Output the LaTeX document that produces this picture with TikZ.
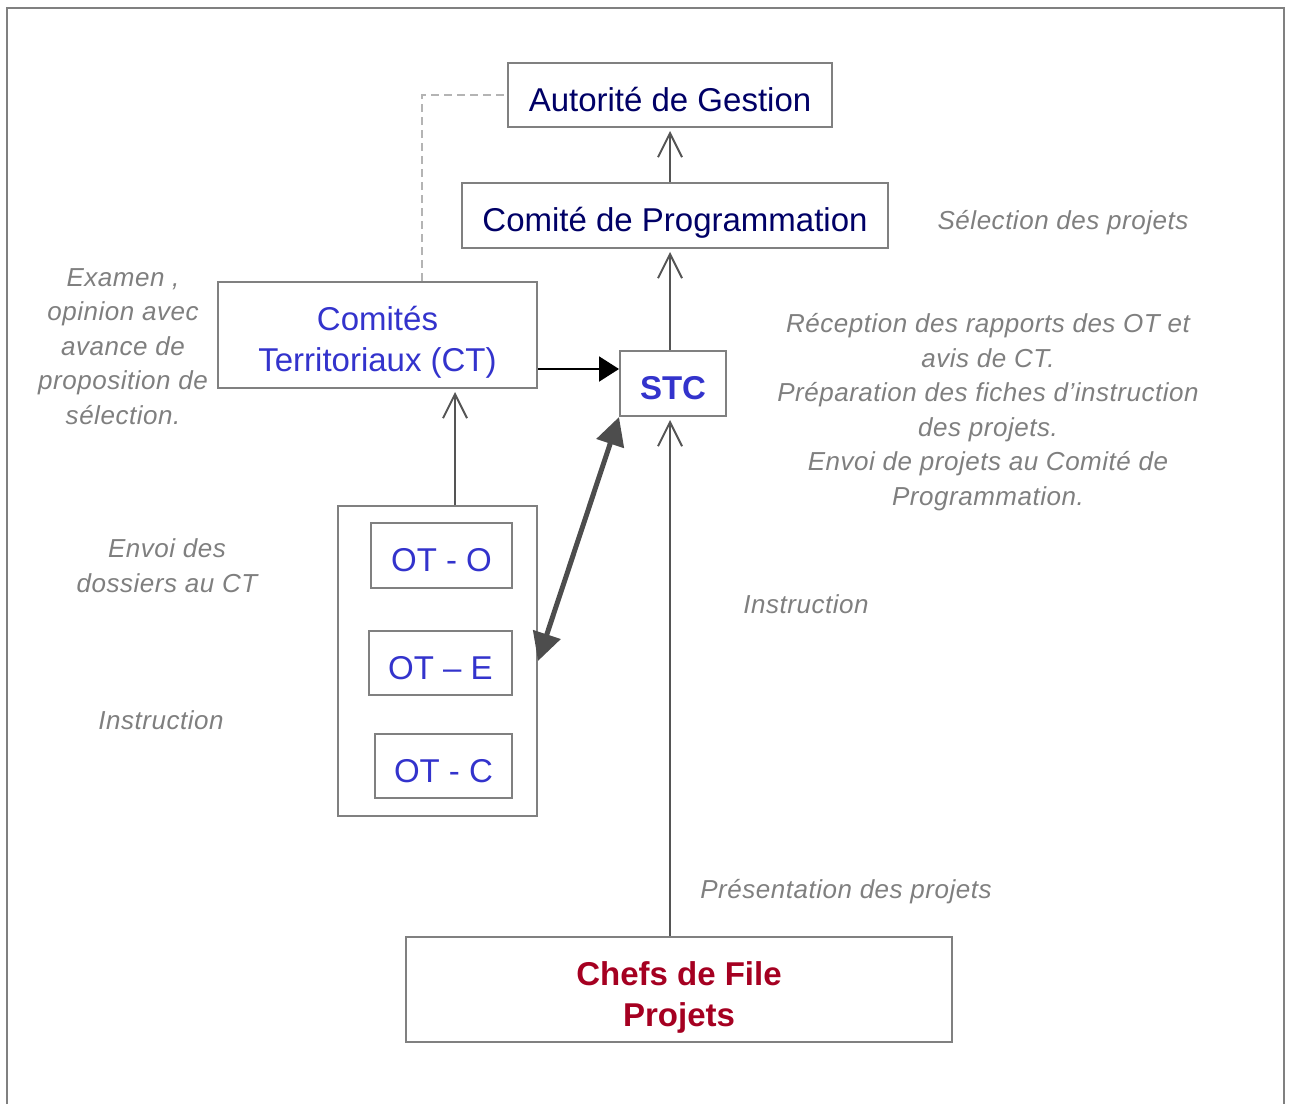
\documentclass[tikz,border=0pt]{standalone}
\usepackage{fontspec}
\setmainfont{Liberation Sans}
\usetikzlibrary{arrows.meta}
\definecolor{boxgray}{HTML}{808080}
\definecolor{linegray}{HTML}{555555}
\definecolor{darkgray}{HTML}{4D4D4D}
\definecolor{dashgray}{HTML}{B4B4B4}
\definecolor{notegray}{HTML}{7F7F7F}
\definecolor{navytext}{HTML}{000066}
\definecolor{bluetext}{HTML}{3333CC}
\definecolor{redtext}{HTML}{A50021}
% box text, set a little lower in its box
\newcommand{\boxtext}[1]{\raisebox{-4pt}[\height][\depth]{\begin{tabular}{@{}c@{}}#1\end{tabular}}}
\tikzset{
  box/.style={draw=boxgray, line width=1pt, inner sep=0pt, align=center,
    font=\fontsize{16.5}{20.5}\selectfont},
  note/.style={inner sep=0pt, align=center, text=notegray,
    font=\itshape\fontsize{13}{17.25}\selectfont\addfontfeature{LetterSpace=2}},
  openarrow/.style={draw=linegray, line width=1pt, shorten >=1.5pt,
    -{Straight Barb[length=12pt,width=12pt,line width=1pt]}},
  filledarrow/.style={draw=black, line width=1pt, -{Triangle[length=10pt,width=12.5pt]}},
  bigarrow/.style={draw=darkgray, line width=2.5pt,
    {Triangle[length=14pt,width=14pt]}-{Triangle[length=14pt,width=14pt]}},
  dashline/.style={draw=dashgray, line width=1pt, dash pattern=on 4pt off 2.5pt}
}
\begin{document}
\begin{tikzpicture}[x=0.5pt,y=-0.5pt]
  \useasboundingbox (0,0) rectangle (1290,1104);
  % frame
  \draw[boxgray, line width=1pt] (7,1104) -- (7,8) -- (1284,8) -- (1284,1104);

  % boxes
  \node[box, minimum width=162pt, minimum height=32pt, text=navytext] (ag) at (670,95) {\boxtext{Autorit\'e de Gestion}};
  \node[box, minimum width=213pt, minimum height=32.5pt, text=navytext] (cp) at (675,215.5) {\boxtext{Comit\'e de Programmation}};
  \node[box, minimum width=159.5pt, minimum height=53pt, text=bluetext] (ct) at (377.5,335) {\boxtext{Comit\'es\\Territoriaux (CT)}};
  \node[box, minimum width=53pt, minimum height=32.5pt, text=bluetext, font=\bfseries\fontsize{16.5}{20.5}\selectfont] (stc) at (673,383.5) {\boxtext{STC}};
  \node[box, minimum width=99.5pt, minimum height=155pt] (otbox) at (437.5,661) {};
  \node[box, minimum width=70.5pt, minimum height=32.5pt, text=bluetext] (oto) at (441.5,555.5) {\boxtext{OT - O}};
  \node[box, minimum width=71.5pt, minimum height=32pt, text=bluetext] (ote) at (440.5,663) {\boxtext{OT -- E}};
  \node[box, minimum width=68.5pt, minimum height=32pt, text=bluetext] (otc) at (443.5,766) {\boxtext{OT - C}};
  \node[box, minimum width=273pt, minimum height=52.5pt, text=redtext, font=\bfseries\fontsize{16.5}{20.5}\selectfont] (chefs) at (679,989.5) {\boxtext{Chefs de File\\Projets}};

  % notes
  \node[note] (selection) at (1063,223) {S\'election des projets};
  \node[note] (examen) at (123,346.5) {Examen ,\\opinion avec\\avance de\\proposition de\\s\'election.};
  \node[note] (reception) at (988,412) {R\'eception des rapports des OT et\\avis de CT.\\Pr\'eparation des fiches d'instruction\\des projets.\\Envoi de projets au Comit\'e de\\Programmation.};
  \node[note] (envoi) at (167,565.5) {Envoi des\\dossiers au CT};
  \node[note] (instrot) at (161,720) {Instruction};
  \node[note] (instrstc) at (806,604) {Instruction};
  \node[note] (presentation) at (846,892) {Pr\'esentation des projets};

  % connectors
  \draw[dashline] ([xshift=22.25pt]ct.north) |- (ag.west);
  \draw[openarrow] (cp.north -| ag.south) -- (ag.south);
  \draw[openarrow] (stc.north -| ag.south) -- (cp.south -| ag.south);
  \draw[openarrow] ([xshift=8.75pt]otbox.north) -- ([xshift=8.75pt]otbox.north |- ct.south);
  \draw[openarrow] (chefs.north -| ag.south) -- (stc.south -| ag.south);
  \draw[filledarrow] ([yshift=-17pt]ct.east) -- ([yshift=-17pt]ct.east -| stc.west);
  \draw[bigarrow] (otbox.east) -- (stc.south west);
\end{tikzpicture}
\end{document}
